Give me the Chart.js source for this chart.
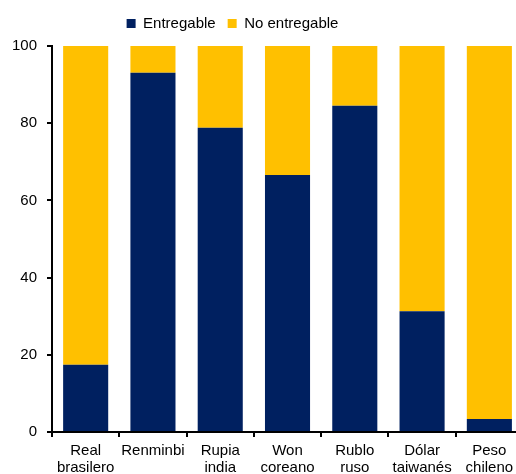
<!DOCTYPE html>
<html>
<head>
<meta charset="utf-8">
<script src="https://cdn.jsdelivr.net/npm/chart.js@4/dist/chart.umd.min.js"></script>
<style>
  html, body { margin: 0; padding: 0; overflow: hidden; background: #fff; }
  #wrap { width: 530px; height: 482px; }
</style>
</head>
<body>
<div id="wrap"><canvas id="chart" width="530" height="482"></canvas></div>
<script>
// currency names (two lines each)
const categories = [
    ["Real", "brasilero"],
    ["Renminbi"],
    ["Rupia", "india"],
    ["Won", "coreano"],
    ["Rublo", "ruso"],
    ["Dólar", "taiwanés"],
    ["Peso", "chileno"]
];
const entregable = [17.4, 93.1, 78.8, 66.6, 84.5, 31.3, 3.4];
const noEntregable = [82.6, 6.9, 21.2, 33.4, 15.5, 68.7, 96.6];
const yTicks = [0, 20, 40, 60, 80, 100];

const NAVY = "#002060";
const GOLD = "#FFC000";

Chart.defaults.font.family = "'Liberation Sans', Arial, sans-serif";
Chart.defaults.font.size = 15;
Chart.defaults.color = "#000";

// legend sits left of centre and has some extra room under it
const legendTweak = {
    id: "legendTweak",
    beforeInit(chart) {
        const lg = chart.legend;
        const origFit = lg.fit;
        lg.fit = function () {
            origFit.call(this);
            this.height += 5;
        };
    },
    afterLayout(chart) {
        const lg = chart.legend;
        if (lg) {
            lg.left -= 30;
            lg.right -= 30;
        }
    }
};

new Chart(document.getElementById("chart"), {
    type: "bar",
    data: {
        labels: categories,
        datasets: [
            { label: "Entregable", data: entregable, backgroundColor: NAVY },
            { label: "No entregable", data: noEntregable, backgroundColor: GOLD }
        ]
    },
    options: {
        responsive: false,
        animation: false,
        layout: { padding: { left: 2, right: 7, top: 4, bottom: 0 } },
        datasets: {
            bar: { barPercentage: 0.67, categoryPercentage: 1 }
        },
        plugins: {
            legend: {
                position: "top",
                labels: {
                    boxWidth: 9,
                    boxHeight: 9,
                    padding: 12,
                    font: { size: 15 }
                }
            },
            tooltip: { enabled: false }
        },
        scales: {
            x: {
                stacked: true,
                border: { display: true, color: "#000", width: 2 },
                grid: {
                    display: true,
                    offset: true,
                    drawOnChartArea: false,
                    drawTicks: true,
                    tickLength: 5,
                    color: "#000",
                    lineWidth: 2
                },
                ticks: {
                    padding: 6,
                    maxRotation: 0,
                    autoSkip: false,
                    font: { size: 15, lineHeight: 1.1 }
                }
            },
            y: {
                stacked: true,
                min: 0,
                max: 100,
                afterBuildTicks(axis) {
                    axis.ticks = yTicks.map(v => ({ value: v }));
                },
                border: { display: true, color: "#000", width: 2 },
                grid: {
                    display: true,
                    drawOnChartArea: false,
                    drawTicks: true,
                    tickLength: 5,
                    color: "#000",
                    lineWidth: 2
                },
                ticks: {
                    padding: 10,
                    font: { size: 15 }
                }
            }
        }
    },
    plugins: [legendTweak]
});
</script>
</body>
</html>
